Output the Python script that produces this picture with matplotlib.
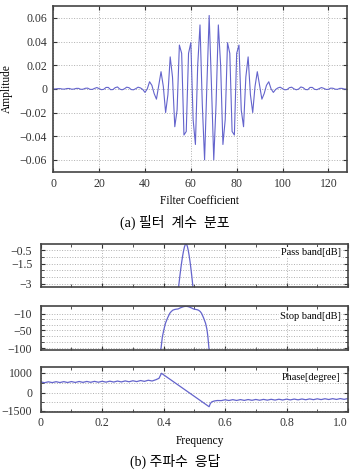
"""
Filter coefficients (a) and frequency response (b) of a band-pass FIR filter.
"""

#%%

import numpy as np
import matplotlib
matplotlib.use("Agg")
import matplotlib.pyplot as plt
from matplotlib.ticker import FixedLocator, NullFormatter

plt.rcParams['font.family'] = ['Liberation Serif', 'Noto Sans CJK KR']
plt.rcParams['axes.unicode_minus'] = True

#=============================
# 0. Data
#=============================

# filter coefficients h[n], n = 0..128
coef = [
    -0.0001, -0.0001, 0.0002, 0.0002, -0.0002, -0.0002, 0.0003, 0.0003,
    -0.0003, -0.0002, 0.0004, 0.0004, -0.0004, -0.0003, 0.0005, 0.0006,
    -0.0004, -0.0005, 0.0004, 0.0011, 0.0002, -0.0007, -0.0004, 0.0012,
    0.0012, -0.0007, -0.0006, 0.0010, 0.0016, -0.0002, -0.0008, 0.0000,
    0.0014, 0.0010, -0.0006, -0.0008, 0.0002, 0.0014, 0.0008, -0.0005,
    -0.0030, 0.0000, 0.0060, 0.0030, -0.0040, -0.0087, 0.0030, 0.0145,
    0.0020, -0.0200, -0.0050, 0.0270, 0.0100, -0.0320, -0.0180, 0.0370,
    0.0300, -0.0390, -0.0360, 0.0300, 0.0390, -0.0260, -0.0470, 0.0200,
    0.0540, -0.0130, -0.0600, 0.0030, 0.0620, 0.0030, -0.0600, -0.0130,
    0.0540, 0.0200, -0.0470, -0.0260, 0.0390, 0.0300, -0.0360, -0.0390,
    0.0300, 0.0370, -0.0180, -0.0320, 0.0100, 0.0270, -0.0050, -0.0200,
    0.0020, 0.0145, 0.0030, -0.0087, -0.0040, 0.0030, 0.0060, 0.0000,
    -0.0030, -0.0005, 0.0008, 0.0014, 0.0002, -0.0008, -0.0006, 0.0010,
    0.0014, 0.0000, -0.0008, -0.0002, 0.0016, 0.0010, -0.0006, -0.0007,
    0.0012, 0.0012, -0.0004, -0.0007, 0.0002, 0.0011, 0.0004, -0.0005,
    -0.0004, 0.0006, 0.0005, -0.0003, -0.0004, 0.0004, 0.0004, -0.0002,
    -0.0003,
]
tap = np.arange(len(coef))

# magnitude response around the pass band
mag_freq = [0.380, 0.385, 0.391, 0.396, 0.401, 0.406, 0.413, 0.420, 0.425,
            0.430, 0.436, 0.441, 0.447, 0.450, 0.453, 0.456, 0.459, 0.462,
            0.465, 0.468, 0.471, 0.474, 0.477, 0.480, 0.483, 0.486, 0.489,
            0.492, 0.495, 0.498, 0.503, 0.509, 0.514, 0.519, 0.5235, 0.530,
            0.5365, 0.541, 0.544, 0.548, 0.553, 0.560]
mag_db = [-130, -120, -105, -68, -48, -33, -20, -9.5, -7.0,
          -5.2, -4.3, -3.9, -3.6, -3.0, -2.4, -1.85, -1.35, -0.9,
          -0.52, -0.22, -0.04, -0.02, -0.18, -0.48, -0.88, -1.35, -1.9,
          -2.5, -3.15, -3.7, -4.1, -4.6, -5.4, -7.0, -9.5, -20,
          -33, -48, -68, -105, -120, -130]

# phase response
phase_freq = [0.000, 0.0125, 0.025, 0.0375, 0.050, 0.0625, 0.075, 0.0875,
              0.100, 0.1125, 0.125, 0.1375, 0.150, 0.1625, 0.175, 0.1875,
              0.200, 0.2125, 0.225, 0.2375, 0.250, 0.2625, 0.275, 0.2875,
              0.300, 0.3125, 0.325, 0.3375, 0.350, 0.3625, 0.375, 0.385,
              0.393, 0.483, 0.548, 0.552, 0.557, 0.565, 0.575,
              0.5875, 0.600, 0.6125, 0.625, 0.6375, 0.650, 0.6625, 0.675,
              0.6875, 0.700, 0.7125, 0.725, 0.7375, 0.750, 0.7625, 0.775,
              0.7875, 0.800, 0.8125, 0.825, 0.8375, 0.850, 0.8625, 0.875,
              0.8875, 0.900, 0.9125, 0.925, 0.9375, 0.950, 0.9625, 0.975,
              0.9875, 1.000]
phase_deg = [540, 500, 545, 505, 550, 508, 553, 510,
             556, 513, 560, 517, 563, 520, 567, 524,
             571, 528, 576, 533, 582, 539, 589, 546,
             597, 555, 608, 567, 623, 585, 650, 720,
             970, 0, -1167, -900, -760, -690, -650,
             -660, -590, -650, -580, -645, -575, -640, -570,
             -633, -563, -627, -557, -620, -550, -614, -544,
             -607, -537, -600, -530, -594, -524, -587, -517,
             -580, -510, -574, -504, -567, -497, -560, -490,
             -553, -483]

coef_ticks = [0, 20, 40, 60, 80, 100, 120]
amp_ticks = [-0.06, -0.04, -0.02, 0, 0.02, 0.04, 0.06]
amp_labels = ['\u22120.06', '\u22120.04', '\u22120.02', '0', '0.02', '0.04', '0.06']
freq_ticks = [0, 0.2, 0.4, 0.6, 0.8, 1.0]
freq_labels = ['0', '0.2', '0.4', '0.6', '0.8', '1.0']
freq_minor = [0.1, 0.3, 0.5, 0.7, 0.9]

#%%

#=============================
# 1. Styling helpers
#=============================

line_col = '#6464cc'
grid_kw = dict(color='#b0b0b0', linestyle=':', linewidth=0.7)
tick_fs = 8.5


def style_axes(ax):
    for s in ax.spines.values():
        s.set_color('#444444')
        s.set_linewidth(1.2)
    ax.tick_params(which='both', direction='in', top=True, right=True,
                   colors='#333333', labelsize=tick_fs)
    ax.tick_params(which='major', length=3)
    ax.tick_params(which='minor', length=2)


def piecewise_scale(vals, pos):
    # axis scale that is linear between anchor values
    def fwd(v):
        return np.interp(v, vals, pos)

    def inv(p):
        return np.interp(p, pos, vals)
    return fwd, inv


fig = plt.figure(figsize=(3.53, 4.75), dpi=100)
W, H = 353, 475


def add_ax(left, top, right, bottom):
    return fig.add_axes([left / W, 1 - bottom / H, (right - left) / W, (bottom - top) / H])

#%%

#=============================
# 2. (a) filter coefficients
#=============================

ax0 = add_ax(53.3, 6, 346.7, 171.7)
ax0.plot(tap, coef, color=line_col, lw=0.8)
ax0.set_xlim(0, 128)
ax0.set_ylim(-0.07, 0.07)
ax0.xaxis.set_major_locator(FixedLocator(coef_ticks))
ax0.yaxis.set_major_locator(FixedLocator(amp_ticks))
ax0.set_yticklabels(amp_labels)
ax0.grid(True, **grid_kw)
style_axes(ax0)
ax0.tick_params(axis='x', pad=4.5)
ax0.tick_params(axis='y', pad=4.5)

fig.text(7 / W, 1 - 89 / H, 'Amplitude', rotation=90, ha='center', va='center', fontsize=8.3)
fig.text(200 / W, 1 - 201 / H, 'Filter Coefficient', ha='center', va='center', fontsize=8.3)
fig.text(175 / W, 1 - 222 / H, '(a) 필터  계수  분포', ha='center', va='center', fontsize=10)

#%%

#=============================
# 3. (b) frequency response
#=============================

# pass band
ax1 = add_ax(40.7, 243.7, 348, 287.3)
ax1.plot(mag_freq, mag_db, color=line_col, lw=0.9)
ax1.set_ylim(-3.27, 0)
ax1.yaxis.set_major_locator(FixedLocator([-0.5, -1.5, -3]))
ax1.set_yticklabels(['\u22120.5', '\u22121.5', '\u22123'])
ax1.yaxis.set_minor_locator(FixedLocator([-1.0, -2.0, -2.5]))

# stop band (uneven axis as in the original)
ax2 = add_ax(40.7, 306.3, 348, 349.7)
ax2.set_yscale('function', functions=piecewise_scale(
    [-300, -100, -50, -10, 0, 100], [-69.1, 1.7, 19.4, 36.0, 43.4, 117.4]))
ax2.plot(mag_freq, mag_db, color=line_col, lw=0.9)
ax2.set_ylim(-104.8, 0)
ax2.yaxis.set_major_locator(FixedLocator([-10, -50, -100]))
ax2.set_yticklabels(['\u221210', '\u221250', '\u2212100'])
ax2.yaxis.set_minor_locator(FixedLocator([-23.3, -36.7, -66.7, -83.3]))

# phase
ax3 = add_ax(40.7, 367.3, 348, 412.3)
ax3.set_yscale('function', functions=piecewise_scale(
    [-5000, -1500, 0, 1000, 5000], [-40.4, 1.6, 19.6, 39.6, 119.6]))
ax3.plot(phase_freq, phase_deg, color=line_col, lw=0.9)
ax3.set_ylim(-1633, 1270)
ax3.yaxis.set_major_locator(FixedLocator([1000, 0, -1500]))
ax3.set_yticklabels(['1000', '0', '\u22121500'])
ax3.yaxis.set_minor_locator(FixedLocator([500, -750]))

for ax, label, ytxt in [(ax1, 'Pass band[dB]', 252.7),
                        (ax2, 'Stop band[dB]', 316.7),
                        (ax3, 'Phase[degree]', 377.3)]:
    ax.set_xlim(0, 1)
    ax.xaxis.set_major_locator(FixedLocator(freq_ticks))
    ax.xaxis.set_minor_locator(FixedLocator(freq_minor))
    ax.grid(True, which='major', axis='x', **grid_kw)
    ax.grid(True, which='both', axis='y', **grid_kw)
    style_axes(ax)
    ax.tick_params(axis='y', pad=6)
    if ax is not ax3:
        ax.xaxis.set_major_formatter(NullFormatter())
    fig.text(340.7 / W, 1 - ytxt / H, label, ha='right', va='center', fontsize=7.5,
             bbox=dict(facecolor='white', edgecolor='none', pad=0.5))

ax3.set_xticklabels(freq_labels)
ax3.tick_params(axis='x', pad=3.5)
# keep the last label inside the figure
ax3.get_xticklabels()[-1].set_horizontalalignment('right')

fig.text(200 / W, 1 - 440.7 / H, 'Frequency', ha='center', va='center', fontsize=8.3)
fig.text(175 / W, 1 - 461.7 / H, '(b) 주파수  응답', ha='center', va='center', fontsize=10)

fig.savefig('out.png', dpi=100)
